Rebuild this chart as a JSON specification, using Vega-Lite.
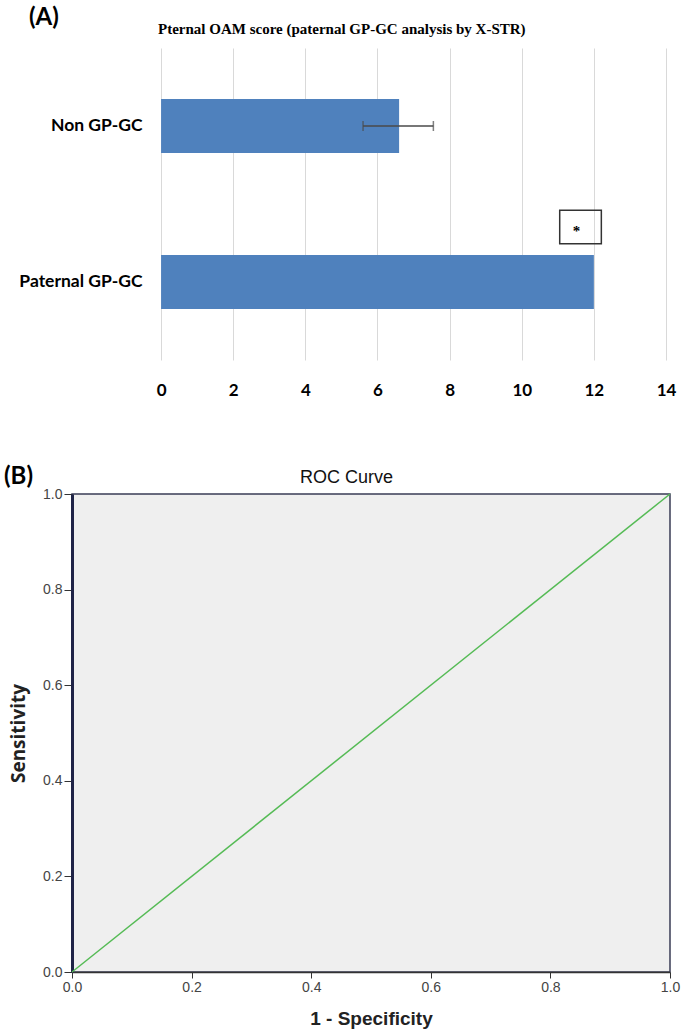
{
  "$schema": "https://vega.github.io/schema/vega-lite/v6.json",
  "background": "white",
  "padding": {"left": 4, "top": 6, "right": 5, "bottom": 5},
  "spacing": 67,
  "datasets": {
    "bars": [
      {"group": "Non GP-GC", "value": 6.6, "lo": 5.6, "hi": 7.55},
      {"group": "Paternal GP-GC", "value": 12}
    ],
    "sig": [
      {"group": "Paternal GP-GC", "x": 11.63, "label": "*"}
    ],
    "roc": [
      {"fpr": 0, "tpr": 0},
      {"fpr": 1, "tpr": 1}
    ]
  },
  "vconcat": [
    {
      "title": {"text": "(A)", "anchor": "start", "frame": "group", "font": "Lato", "fontWeight": "bold", "fontSize": 24, "color": "#000", "dx": -43, "offset": -8},
      "vconcat": [
        {
          "width": 594,
          "height": 312,
          "view": {"stroke": null},
          "title": {"text": "Pternal OAM score (paternal GP-GC analysis by X-STR)", "anchor": "start", "frame": "group", "dx": 86, "font": "Liberation Serif", "fontWeight": "bold", "fontSize": 15, "color": "#000", "offset": 11},
          "layer": [
            {
              "data": {"name": "bars"},
              "mark": {"type": "bar", "size": 54, "color": "#4f81bd"},
              "encoding": {
                "y": {"field": "group", "type": "nominal", "sort": ["Non GP-GC", "Paternal GP-GC"], "scale": {"paddingInner": 0, "paddingOuter": 0},
                  "axis": {"title": null, "domain": false, "ticks": false, "tickSize": 0, "labelPadding": -70, "labelFont": "Lato", "labelFontWeight": "bold", "labelFontSize": 17.5, "labelColor": "#000"}},
                "x": {"field": "value", "type": "quantitative", "scale": {"domain": [-2.47, 14], "nice": false, "zero": false},
                  "axis": {"title": null, "domain": false, "ticks": false, "grid": true, "gridColor": "#d9d9d9", "values": [0, 2, 4, 6, 8, 10, 12, 14], "labelFlush": false, "labelPadding": 22, "labelFont": "Lato", "labelFontWeight": "bold", "labelFontSize": 17, "labelColor": "#000"}}
              }
            },
            {
              "data": {"name": "bars"},
              "transform": [{"filter": "isValid(datum.lo)"}],
              "mark": {"type": "rule", "color": "#4a4a4a", "strokeWidth": 1.5},
              "encoding": {
                "y": {"field": "group", "type": "nominal"},
                "x": {"field": "lo", "type": "quantitative"},
                "x2": {"field": "hi"}
              }
            },
            {
              "data": {"name": "bars"},
              "transform": [{"filter": "isValid(datum.lo)"}],
              "mark": {"type": "tick", "orient": "vertical", "size": 10, "thickness": 1.5, "color": "#4a4a4a"},
              "encoding": {
                "y": {"field": "group", "type": "nominal"},
                "x": {"field": "lo", "type": "quantitative"}
              }
            },
            {
              "data": {"name": "bars"},
              "transform": [{"filter": "isValid(datum.hi)"}],
              "mark": {"type": "tick", "orient": "vertical", "size": 10, "thickness": 1.5, "color": "#4a4a4a"},
              "encoding": {
                "y": {"field": "group", "type": "nominal"},
                "x": {"field": "hi", "type": "quantitative"}
              }
            },
            {
              "data": {"name": "sig"},
              "mark": {"type": "point", "shape": "M-1.25,-1H1.25V1H-1.25Z", "size": 1109, "filled": false, "stroke": "#333", "strokeWidth": 1.5, "opacity": 1, "yOffset": -55},
              "encoding": {
                "y": {"field": "group", "type": "nominal"},
                "x": {"field": "x", "type": "quantitative"}
              }
            },
            {
              "data": {"name": "sig"},
              "mark": {"type": "text", "fontSize": 15, "font": "Liberation Serif", "fontWeight": "bold", "color": "#000", "yOffset": -51, "dx": -4},
              "encoding": {
                "y": {"field": "group", "type": "nominal"},
                "x": {"field": "x", "type": "quantitative"},
                "text": {"field": "label"}
              }
            }
          ]
        }
      ]
    },
    {
      "title": {"text": "(B)", "anchor": "start", "frame": "group", "dx": -68, "font": "Lato", "fontWeight": "bold", "fontSize": 24, "color": "#000", "offset": -21},
      "vconcat": [
        {
          "width": 598,
          "height": 478,
          "view": {"fill": "#efefef", "stroke": "#3a3d55", "strokeWidth": 1.5},
          "title": {"text": "ROC Curve", "anchor": "start", "frame": "group", "dx": 228, "font": "Liberation Sans", "fontWeight": "normal", "fontSize": 18, "color": "#111", "offset": 0},
          "data": {"name": "roc"},
          "mark": {"type": "line", "color": "#55bb55", "strokeWidth": 1.5},
          "encoding": {
            "x": {"field": "fpr", "type": "quantitative", "scale": {"domain": [0, 1], "nice": false},
              "axis": {"title": "1 - Specificity", "titleFont": "Liberation Sans", "titleFontWeight": "bold", "titleFontSize": 19, "titleColor": "#222", "titlePadding": 15,
                "values": [0, 0.2, 0.4, 0.6, 0.8, 1], "format": ".1f", "grid": false, "labelFlush": false, "labelFont": "Liberation Sans", "labelFontSize": 14, "labelColor": "#444", "labelPadding": 2,
                "tickColor": "#333", "tickSize": 6, "domainColor": "#333", "domainWidth": 1.5}},
            "y": {"field": "tpr", "type": "quantitative", "scale": {"domain": [0, 1], "nice": false},
              "axis": {"title": "Sensitivity", "titleFont": "Open Sans", "titleFontWeight": "bold", "titleFontSize": 19, "titleColor": "#222", "titlePadding": 14,
                "values": [0, 0.2, 0.4, 0.6, 0.8, 1], "format": ".1f", "grid": false, "labelFlush": false, "labelFont": "Liberation Sans", "labelFontSize": 14, "labelColor": "#444", "labelPadding": 2,
                "tickColor": "#333", "tickSize": 8, "domainColor": "#1f2347", "domainWidth": 3}}
          }
        }
      ]
    }
  ]
}
